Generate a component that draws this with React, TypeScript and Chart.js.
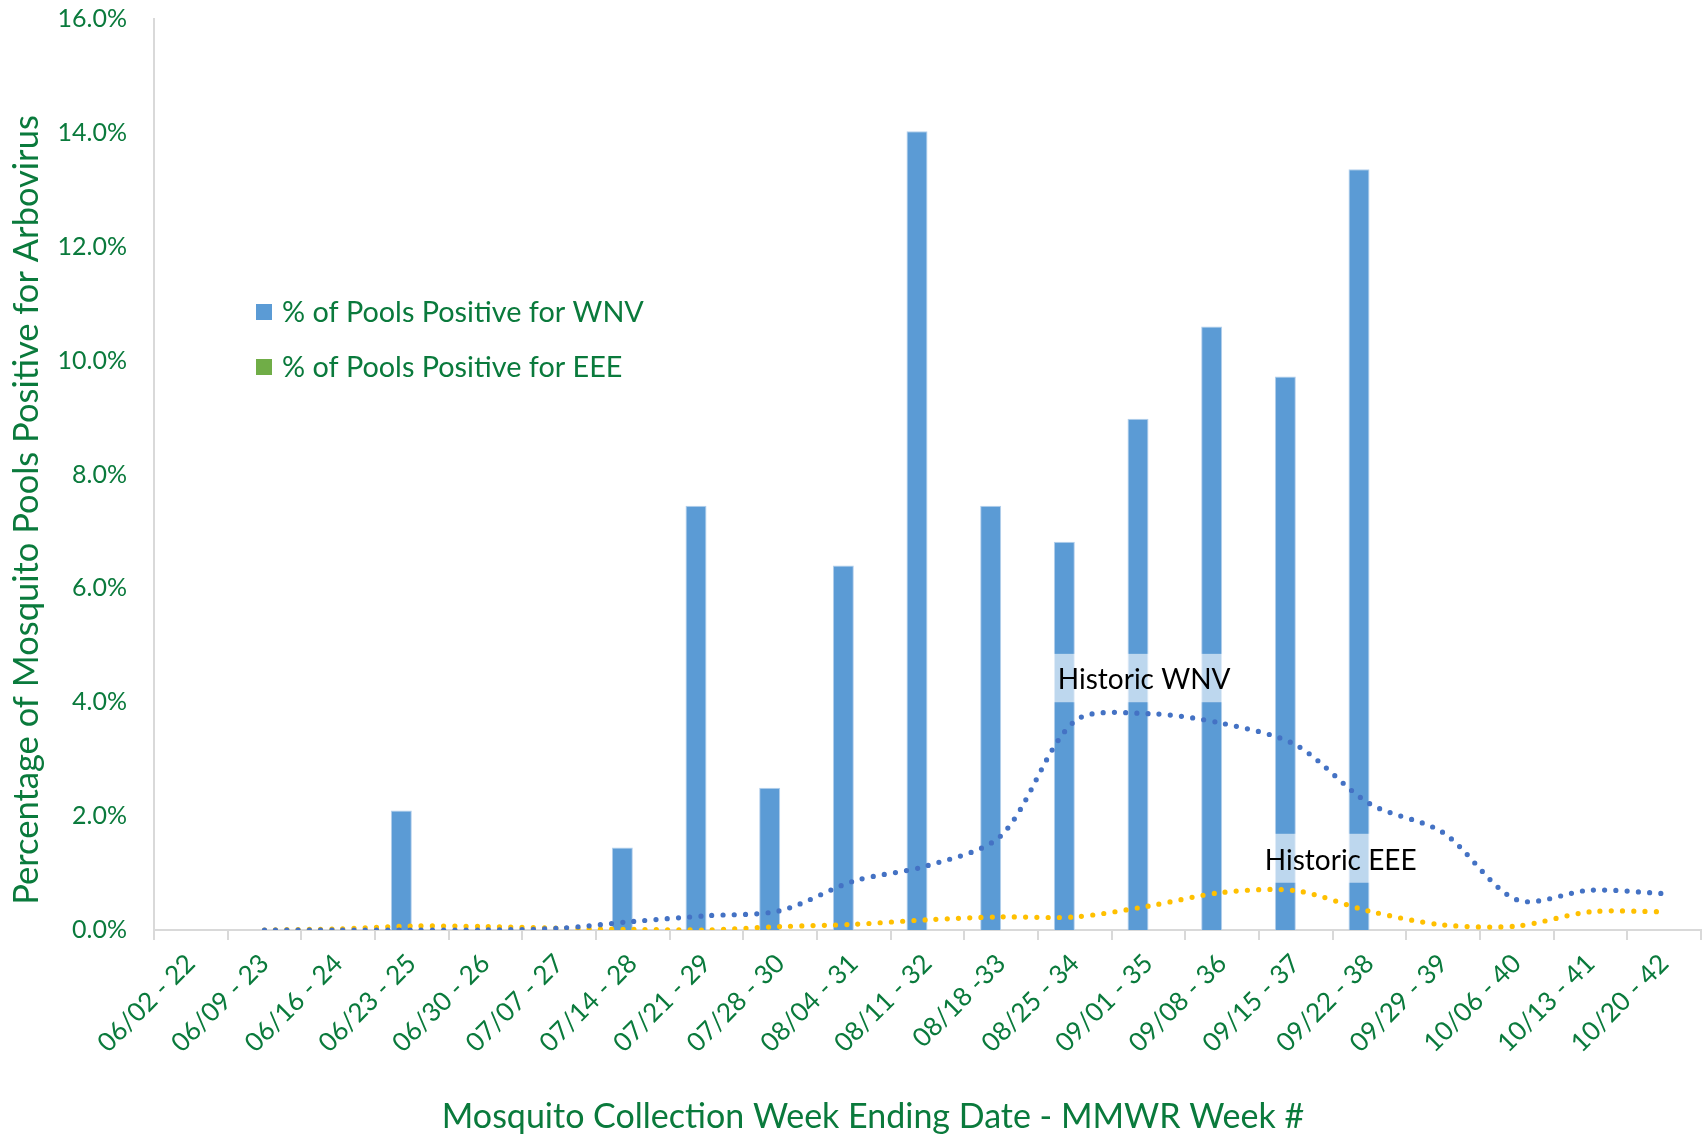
import React, { useEffect, useRef } from 'react';
import { Chart, registerables } from 'chart.js';

Chart.register(...registerables);

const categories = [
  '06/02 - 22', '06/09 - 23', '06/16 - 24', '06/23 - 25', '06/30 - 26', '07/07 - 27',
  '07/14 - 28', '07/21 - 29', '07/28 - 30', '08/04 - 31', '08/11 - 32', '08/18 -33',
  '08/25 - 34', '09/01 - 35', '09/08 - 36', '09/15 - 37', '09/22 - 38', '09/29 - 39',
  '10/06 - 40', '10/13 - 41', '10/20 - 42',
];

const wnvValues = [0, 0, 0, 2.1, 0, 0, 1.45, 7.45, 2.5, 6.4, 14.03, 7.45, 6.82, 8.98, 10.6, 9.72, 13.36, 0, 0, 0, 0];
const eeeValues = [0, 0, 0, 0, 0, 0, 0, 0, 0, 0, 0, 0, 0, 0, 0, 0, 0, 0, 0, 0, 0];
const historicWnv = [null, 0, 0, 0, 0, 0.03, 0.15, 0.25, 0.34, 0.86, 1.13, 1.66, 3.67, 3.8, 3.63, 3.25, 2.22, 1.71, 0.53, 0.7, 0.64];
const historicEee = [null, 0, 0.02, 0.07, 0.06, 0.03, 0.01, 0, 0.06, 0.1, 0.18, 0.23, 0.23, 0.42, 0.66, 0.69, 0.33, 0.09, 0.07, 0.32, 0.32];

const yMin = 0;
const yMax = 16;
const yStep = 2;

const legendLabels = ['% of Pools Positive for WNV', '% of Pools Positive for EEE'];
const historicLabels = ['Historic WNV', 'Historic EEE'];
const xTitle = 'Mosquito Collection Week Ending Date - MMWR Week #';
const yTitle = 'Percentage of Mosquito Pools Positive for Arbovirus';

const GREEN = '#0A7A3C';
const FONT = 'Lato, "Open Sans", sans-serif';

const overlayPlugin = {
  id: 'overlay',
  afterDatasetsDraw(chart: any) {
    const ctx = chart.ctx;
    const xs = chart.scales.x;
    const ys = chart.scales.y;
    ctx.save();
    const anns = [
      { text: historicLabels[0], idx: 12, dx: -17, top: 4.85, bottom: 4.0, base: 4.23 },
      { text: historicLabels[1], idx: 15, dx: -31, top: 1.69, bottom: 0.83, base: 1.05 },
    ];
    ctx.font = `28px ${FONT}`;
    for (const a of anns) {
      const tx = xs.getPixelForValue(a.idx) + a.dx;
      const w = ctx.measureText(a.text).width;
      const yt = ys.getPixelForValue(a.top);
      const yb = ys.getPixelForValue(a.bottom);
      ctx.fillStyle = 'rgba(255,255,255,0.6)';
      ctx.fillRect(tx - 9, yt, w + 18, yb - yt);
      ctx.fillStyle = '#000000';
      ctx.textAlign = 'left';
      ctx.textBaseline = 'alphabetic';
      ctx.fillText(a.text, tx, ys.getPixelForValue(a.base));
    }
    ctx.restore();
  },
  afterDraw(chart: any) {
    const ctx = chart.ctx;
    ctx.save();
    const colors = ['#5B9BD5', '#70AD47'];
    const rows = [312, 367];
    ctx.font = `28.8px ${FONT}`;
    ctx.textAlign = 'left';
    ctx.textBaseline = 'middle';
    legendLabels.forEach((lab, i) => {
      ctx.fillStyle = colors[i];
      ctx.fillRect(256, rows[i] - 8, 16, 16);
      ctx.fillStyle = GREEN;
      ctx.fillText(lab, 282, rows[i] + 1);
    });
    ctx.fillStyle = GREEN;
    ctx.font = `34px ${FONT}`;
    ctx.textAlign = 'center';
    ctx.textBaseline = 'middle';
    ctx.fillText(xTitle, 873, 1117);
    ctx.translate(27, 510);
    ctx.rotate(-Math.PI / 2);
    ctx.font = `34.5px ${FONT}`;
    ctx.fillText(yTitle, 0, 0);
    ctx.restore();
  },
};

export default function App() {
  const ref = useRef<HTMLCanvasElement | null>(null);
  useEffect(() => {
    document.body.style.margin = '0';
    const canvas = ref.current;
    if (!canvas) return;
    const dotLine = {
      borderWidth: 5.2,
      borderDash: [0, 11.2],
      borderCapStyle: 'round',
      pointRadius: 0,
      tension: 0.3,
      fill: false,
    };
    const chart = new Chart(canvas, {
      type: 'bar',
      data: {
        labels: categories,
        datasets: [
          {
            type: 'bar',
            label: legendLabels[0],
            data: wnvValues,
            backgroundColor: '#5B9BD5',
            borderColor: '#B4D0EC',
            borderWidth: (c: any) => (c.raw > 0 ? 1 : 0),
            categoryPercentage: 0.57,
            barPercentage: 1,
            order: 2,
          },
          {
            type: 'bar',
            label: legendLabels[1],
            data: eeeValues,
            backgroundColor: '#70AD47',
            borderWidth: 0,
            categoryPercentage: 0.57,
            barPercentage: 1,
            order: 2,
          },
          {
            type: 'line',
            label: historicLabels[0],
            data: historicWnv,
            borderColor: '#4472C4',
            ...dotLine,
            order: 0,
          },
          {
            type: 'line',
            label: historicLabels[1],
            data: historicEee,
            borderColor: '#FFC000',
            ...dotLine,
            order: 1,
          },
        ] as any,
      },
      options: {
        responsive: false,
        animation: false,
        devicePixelRatio: 1,
        layout: { padding: { left: 0, right: 4, top: 19, bottom: 0 } },
        plugins: { legend: { display: false }, tooltip: { enabled: false }, title: { display: false } },
        scales: {
          x: {
            offset: true,
            grid: {
              offset: true,
              drawOnChartArea: false,
              drawTicks: true,
              tickLength: 10,
              color: '#D9D9D9',
              lineWidth: 2,
            },
            border: { display: true, color: '#D9D9D9', width: 2 },
            ticks: {
              autoSkip: false,
              minRotation: 45,
              maxRotation: 45,
              padding: 8,
              color: GREEN,
              font: { family: FONT, size: 26 },
            },
            afterFit: (s: any) => {
              s.height = 208;
            },
          },
          y: {
            min: yMin,
            max: yMax,
            grid: { display: false, drawTicks: false },
            border: { display: true, color: '#D9D9D9', width: 2 },
            ticks: {
              stepSize: yStep,
              padding: 27,
              color: GREEN,
              font: { family: FONT, size: 25 },
              callback: (v: any) => Number(v).toFixed(1) + '%',
            },
            afterFit: (s: any) => {
              s.width = 154;
              s.paddingTop = 0;
              s.paddingBottom = 0;
            },
          },
        },
      },
      plugins: [overlayPlugin],
    });
    return () => chart.destroy();
  }, []);
  return (
    <div style={{ width: 1705, height: 1138, background: '#fff' }}>
      <canvas ref={ref} width={1705} height={1138} style={{ display: 'block' }} />
    </div>
  );
}
